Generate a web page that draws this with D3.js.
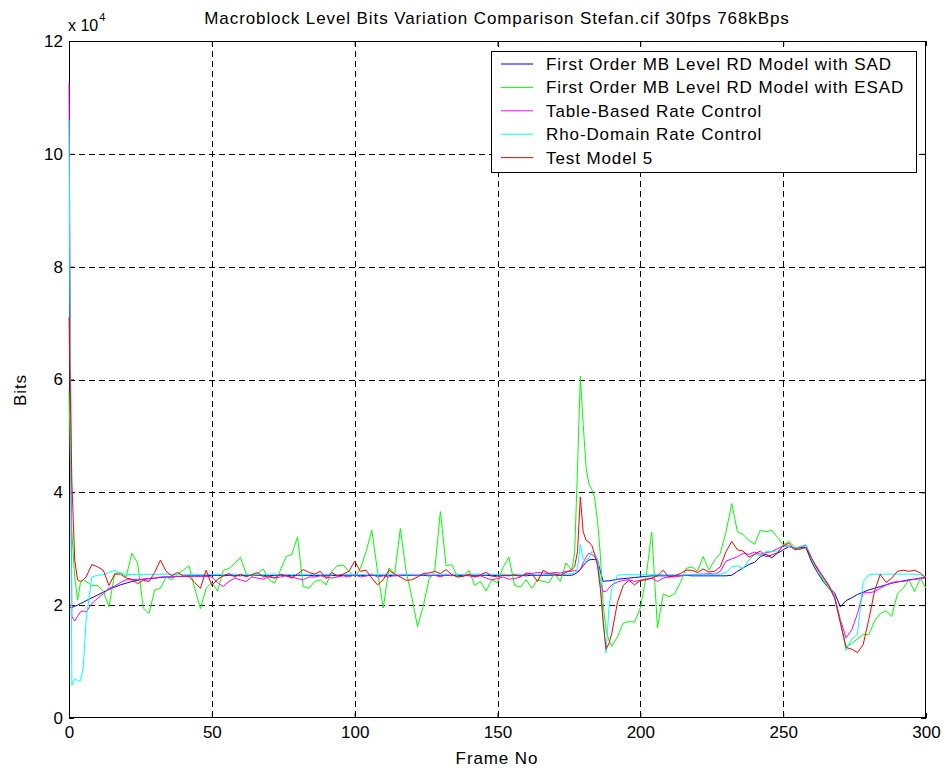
<!DOCTYPE html>
<html>
<head>
<meta charset="utf-8">
<script src="https://cdn.jsdelivr.net/npm/d3@7"></script>
<style>
  body { margin: 0; background: #fff; }
  text { font-family: Arial, "Liberation Sans", sans-serif; fill: #000; }
</style>
</head>
<body>
<svg></svg>
<script>
const width = 950;
const height = 771;
const marginLeft = 69;
const marginRight = 24;
const marginTop = 41;
const marginBottom = 53;

const frames = [0, 1, 2, 3, 4, 5, 6]
    .concat(d3.range(8, 177, 2))
    .concat(d3.range(177, 191))
    .concat(d3.range(192, 301, 2));

// values in units of 10^4 bits
const bitsSad = [
    1.95, 1.96, 1.98, 2.0, 2.03, 2.05, 2.08,
    2.13, 2.18, 2.23, 2.28, 2.32, 2.36, 2.39, 2.42, 2.44, 2.46,
    2.47, 2.48, 2.49, 2.5, 2.5, 2.51, 2.51, 2.52, 2.52, 2.52,
    2.52, 2.53, 2.53, 2.52, 2.53, 2.53, 2.52, 2.53, 2.53, 2.53,
    2.53, 2.52, 2.53, 2.53, 2.53, 2.52, 2.53, 2.53, 2.53, 2.52,
    2.53, 2.53, 2.53, 2.52, 2.53, 2.53, 2.53, 2.53, 2.52, 2.53,
    2.53, 2.53, 2.53, 2.52, 2.53, 2.53, 2.53, 2.53, 2.53, 2.52,
    2.53, 2.53, 2.53, 2.53, 2.52, 2.53, 2.53, 2.53, 2.53, 2.53,
    2.52, 2.53, 2.53, 2.53, 2.53, 2.53, 2.52, 2.53, 2.53, 2.53,
    2.53, 2.53, 2.53, 2.53, 2.53,
    2.55, 2.58, 2.63, 2.7, 2.76, 2.8, 2.81,
    2.81, 2.8, 2.6, 2.42, 2.43, 2.43, 2.44,
    2.46, 2.47, 2.48, 2.49, 2.5, 2.51, 2.52, 2.52, 2.52, 2.52,
    2.52, 2.52, 2.53, 2.52, 2.52, 2.52, 2.52, 2.52, 2.52, 2.52,
    2.53, 2.6, 2.66, 2.72, 2.76, 2.86, 2.9, 2.84, 2.92, 2.98,
    3.04, 3.0, 3.02, 3.02, 2.76, 2.58, 2.42, 2.3, 2.22, 1.97,
    2.08, 2.13, 2.19, 2.23, 2.27, 2.3, 2.33, 2.36, 2.39, 2.41,
    2.43, 2.45, 2.46, 2.48, 2.49
];

const bitsEsad = [
    5.8, 3.3, 2.5, 2.09, 2.39, 2.45, 2.42,
    2.35, 2.35, 2.25, 1.97, 2.56, 2.58, 2.5, 2.92, 2.75, 1.95,
    1.85, 2.27, 2.3, 2.5, 2.45, 2.55, 2.62, 2.7, 2.3, 1.94,
    2.3, 2.4, 2.25, 2.62, 2.65, 2.74, 2.85, 2.56, 2.51, 2.56,
    2.64, 2.45, 2.39, 2.62, 2.86, 2.9, 3.21, 2.33, 2.3, 2.42,
    2.45, 2.36, 2.6, 2.7, 2.71, 2.6, 2.5, 2.65, 2.95, 3.33,
    2.6, 1.95, 2.66, 2.55, 3.36, 2.6, 2.15, 1.62, 1.98, 2.45,
    2.6, 3.66, 2.7, 2.72, 2.5, 2.51, 2.62, 2.35, 2.42, 2.25,
    2.45, 2.4, 2.68, 2.85, 2.35, 2.32, 2.45, 2.3, 2.45, 2.42,
    2.4, 2.56, 2.42, 2.75, 2.62,
    2.92, 4.4, 6.06, 5.2, 4.45, 4.15, 4.05,
    3.9, 3.5, 2.9, 2.0, 1.55, 1.38, 1.27,
    1.44, 1.68, 1.71, 1.7, 1.95, 2.5, 3.3, 1.6, 2.2, 2.15,
    2.2, 2.4, 2.65, 2.68, 2.6, 2.86, 2.62, 2.8, 2.92, 3.3,
    3.8, 3.3, 3.25, 3.15, 3.08, 3.33, 3.3, 3.33, 3.2, 3.07,
    3.13, 3.03, 2.98, 3.07, 2.8, 2.64, 2.45, 2.3, 2.15, 1.68,
    1.27, 1.32, 1.4, 1.48, 1.48, 1.72, 1.85, 1.9, 1.8, 2.2,
    2.3, 2.45, 2.24, 2.48, 2.3
];

const bitsTable = [
    11.25, 1.8, 1.72, 1.8, 1.88, 1.9, 1.88,
    2.03, 2.12, 2.2, 2.3, 2.34, 2.4, 2.45, 2.45, 2.46, 2.46,
    2.47, 2.48, 2.5, 2.5, 2.5, 2.51, 2.51, 2.51, 2.51, 2.51,
    2.51, 2.5, 2.4, 2.33, 2.42, 2.48, 2.45, 2.42, 2.5, 2.48,
    2.46, 2.5, 2.48, 2.5, 2.52, 2.5, 2.47, 2.45, 2.5, 2.5,
    2.52, 2.5, 2.48, 2.5, 2.52, 2.5, 2.54, 2.5, 2.52, 2.55,
    2.5, 2.52, 2.5, 2.53, 2.52, 2.55, 2.53, 2.52, 2.55, 2.52,
    2.53, 2.5, 2.54, 2.52, 2.55, 2.53, 2.52, 2.5, 2.52, 2.48,
    2.45, 2.47, 2.5, 2.46, 2.47, 2.5, 2.57, 2.56, 2.58, 2.57,
    2.56, 2.58, 2.57, 2.6, 2.6,
    2.62, 2.6, 2.63, 2.75, 2.85, 2.92, 2.9,
    2.86, 2.8, 2.4, 2.24, 2.24, 2.3, 2.36,
    2.41, 2.44, 2.45, 2.42, 2.44, 2.46, 2.48, 2.42, 2.48, 2.5,
    2.5, 2.52, 2.53, 2.54, 2.55, 2.55, 2.56, 2.55, 2.6, 2.78,
    2.82, 2.86, 2.92, 2.9, 2.94, 2.9, 2.93, 2.95, 3.0, 3.05,
    3.05, 3.01, 3.03, 3.06, 2.82, 2.66, 2.5, 2.36, 2.15, 1.75,
    1.42, 1.56, 1.85, 2.22, 2.22, 2.24, 2.3, 2.36, 2.4, 2.42,
    2.42, 2.44, 2.46, 2.47, 2.49
];

const bitsRho = [
    10.6, 0.58, 0.7, 0.66, 0.66, 0.9, 1.75,
    2.5, 2.53, 2.54, 2.58, 2.62, 2.56, 2.55, 2.54, 2.55, 2.54,
    2.55, 2.54, 2.55, 2.55, 2.54, 2.55, 2.54, 2.55, 2.55, 2.54,
    2.55, 2.54, 2.55, 2.54, 2.55, 2.55, 2.54, 2.55, 2.54, 2.55,
    2.54, 2.55, 2.55, 2.54, 2.55, 2.54, 2.55, 2.55, 2.54, 2.55,
    2.54, 2.55, 2.55, 2.54, 2.55, 2.54, 2.55, 2.54, 2.55, 2.55,
    2.54, 2.55, 2.54, 2.55, 2.55, 2.54, 2.55, 2.54, 2.55, 2.54,
    2.55, 2.54, 2.55, 2.55, 2.54, 2.55, 2.54, 2.55, 2.55, 2.54,
    2.55, 2.54, 2.55, 2.54, 2.55, 2.55, 2.54, 2.55, 2.55, 2.55,
    2.54, 2.55, 2.55, 2.55, 2.56,
    2.57, 2.65, 3.08, 2.82, 2.77, 2.84, 2.95,
    2.92, 2.83, 2.45, 1.7, 1.15, 1.95, 2.3,
    2.53, 2.54, 2.54, 2.54, 2.54, 2.54, 2.54, 2.54, 2.54, 2.54,
    2.54, 2.54, 2.54, 2.54, 2.54, 2.54, 2.54, 2.55, 2.55, 2.58,
    2.68, 2.7, 2.65, 2.8, 2.9, 2.88, 2.95, 2.95, 2.96, 3.05,
    3.04, 3.01, 3.04, 3.07, 2.82, 2.63, 2.48, 2.34, 2.12, 1.72,
    1.2, 1.4, 1.48, 2.42, 2.54, 2.55, 2.55, 2.55, 2.55, 2.55,
    2.55, 2.55, 2.55, 2.54, 2.5
];

const bitsTm5 = [
    7.1, 4.2, 2.8, 2.45, 2.42, 2.45, 2.5,
    2.72, 2.68, 2.62, 2.35, 2.55, 2.55, 2.48, 2.46, 2.38, 2.44,
    2.42, 2.58, 2.8, 2.6, 2.52, 2.58, 2.52, 2.51, 2.4, 2.3,
    2.62, 2.35, 2.46, 2.52, 2.56, 2.5, 2.55, 2.5, 2.54, 2.58,
    2.5, 2.52, 2.48, 2.55, 2.52, 2.48, 2.55, 2.63, 2.58, 2.55,
    2.6, 2.47, 2.58, 2.52, 2.55, 2.6, 2.78, 2.6, 2.62, 2.48,
    2.36, 2.45, 2.62, 2.55, 2.5, 2.44, 2.45, 2.5, 2.56, 2.57,
    2.6, 2.56, 2.63, 2.54, 2.5, 2.51, 2.55, 2.5, 2.54, 2.58,
    2.52, 2.5, 2.53, 2.52, 2.54, 2.51, 2.55, 2.56, 2.42, 2.62,
    2.56, 2.55, 2.53, 2.58, 2.63,
    2.68, 2.95, 3.92, 3.3, 3.15, 3.12, 3.06,
    2.9, 2.7, 2.3, 1.7, 1.22, 1.32, 1.5,
    2.05, 2.35, 2.44, 2.36, 2.44, 2.45, 2.48, 2.52, 2.62, 2.5,
    2.52, 2.56, 2.62, 2.62, 2.58, 2.64, 2.59, 2.6, 2.68, 2.95,
    3.13, 2.98, 2.96, 2.85, 2.9, 2.96, 2.86, 2.89, 2.93, 3.05,
    3.1, 2.98, 3.0, 3.02, 2.83, 2.64, 2.5, 2.34, 2.13, 1.7,
    1.25, 1.22, 1.16, 1.3, 1.75, 2.25, 2.55, 2.4, 2.48, 2.6,
    2.62, 2.6, 2.62, 2.57, 2.48
];

const seriesNames = [
    "First Order MB Level RD Model with SAD",
    "First Order MB Level RD Model with ESAD",
    "Table-Based Rate Control",
    "Rho-Domain Rate Control",
    "Test Model 5"
];
const seriesColors = ["#0000ff", "#00ff00", "#ff00ff", "#00ffff", "#ff0000"];
const seriesValues = [bitsSad, bitsEsad, bitsTable, bitsRho, bitsTm5];

const xTicks = [0, 50, 100, 150, 200, 250, 300];
const yTicks = [0, 2, 4, 6, 8, 10, 12];

const fontSize = "17px";
const spacing = "0.9px";

let svg = d3.select("svg").attr("width", width).attr("height", height);

svg.append("rect").attr("width", width).attr("height", height).attr("fill", "#fff");

let scaleX = d3.scaleLinear().domain([0, 300]).range([marginLeft, width - marginRight]);
let scaleY = d3.scaleLinear().domain([0, 12]).range([height - marginBottom, marginTop]);

function drawGrid() {
    let grid = svg.append("g")
        .attr("stroke", "#000")
        .attr("stroke-width", 1)
        .attr("stroke-dasharray", "6,4")
        .attr("shape-rendering", "crispEdges");
    grid.selectAll(".gx")
        .data(xTicks.slice(1, -1))
        .enter()
        .append("line")
        .attr("x1", d => Math.round(scaleX(d)) + 0.5)
        .attr("x2", d => Math.round(scaleX(d)) + 0.5)
        .attr("y1", scaleY(12))
        .attr("y2", scaleY(0));
    grid.selectAll(".gy")
        .data(yTicks.slice(1, -1))
        .enter()
        .append("line")
        .attr("y1", d => Math.round(scaleY(d)) + 0.5)
        .attr("y2", d => Math.round(scaleY(d)) + 0.5)
        .attr("x1", scaleX(0))
        .attr("x2", scaleX(300));
}

function drawAxes() {
    let axisX = d3.axisBottom(scaleX).tickValues(xTicks).tickSizeInner(-5).tickSizeOuter(0).tickPadding(8);
    let axisY = d3.axisLeft(scaleY).tickValues(yTicks).tickSizeInner(-5).tickSizeOuter(0).tickPadding(6);
    let axisTop = d3.axisTop(scaleX).tickValues(xTicks).tickSizeInner(-5).tickSizeOuter(0).tickFormat("");
    let axisRight = d3.axisRight(scaleY).tickValues(yTicks).tickSizeInner(-5).tickSizeOuter(0).tickFormat("");

    svg.append("g").attr("transform", `translate(0, ${scaleY(0)})`).call(axisX);
    svg.append("g").attr("transform", `translate(${scaleX(0)}, 0)`).call(axisY);
    svg.append("g").attr("transform", `translate(0, ${scaleY(12)})`).call(axisTop);
    svg.append("g").attr("transform", `translate(${scaleX(300)}, 0)`).call(axisRight);

    svg.selectAll(".domain").remove();
    svg.selectAll(".tick line").attr("stroke", "#000");
    svg.selectAll(".tick text")
        .style("font-size", fontSize)
        .style("font-family", "Arial, 'Liberation Sans', sans-serif")
        .attr("fill", "#000");

    svg.append("rect")
        .attr("x", scaleX(0) + 0.5)
        .attr("y", scaleY(12) + 0.5)
        .attr("width", scaleX(300) - scaleX(0) - 1)
        .attr("height", scaleY(0) - scaleY(12) - 1)
        .attr("fill", "none")
        .attr("stroke", "#000")
        .attr("shape-rendering", "crispEdges");
}

function drawLines() {
    let line = d3.line()
        .x(d => scaleX(d[0]))
        .y(d => scaleY(d[1]));
    seriesValues.forEach((values, i) => {
        let points = frames.map((f, k) => [f, values[k]]).filter(d => d[1] !== undefined);
        svg.append("path")
            .datum(points)
            .attr("fill", "none")
            .attr("stroke", seriesColors[i])
            .attr("stroke-width", 1)
            .attr("d", line);
    });
}

function drawLegend() {
    let legend = svg.append("g");
    legend.append("rect")
        .attr("x", 491.5).attr("y", 51.5)
        .attr("width", 425).attr("height", 121)
        .attr("fill", "#fff").attr("stroke", "#000")
        .attr("shape-rendering", "crispEdges");
    seriesNames.forEach((name, i) => {
        let y = 64 + i * 23.4;
        legend.append("line")
            .attr("x1", 501).attr("x2", 533)
            .attr("y1", y).attr("y2", y)
            .attr("stroke", seriesColors[i]);
        legend.append("text")
            .attr("x", 546).attr("y", y).attr("dy", "0.35em")
            .style("font-size", fontSize)
            .style("letter-spacing", spacing)
            .text(name);
    });
}

function drawLabels() {
    svg.append("text")
        .attr("x", 497).attr("y", 24)
        .attr("text-anchor", "middle")
        .style("font-size", "17px")
        .style("letter-spacing", spacing)
        .text("Macroblock Level Bits Variation Comparison Stefan.cif 30fps 768kBps");
    let mult = svg.append("text")
        .attr("x", 68).attr("y", 31)
        .style("font-size", "16px");
    mult.append("tspan").text("x 10");
    mult.append("tspan").attr("dx", 1).attr("dy", -10).style("font-size", "11px").text("4");
    svg.append("text")
        .attr("x", 497).attr("y", 764)
        .attr("text-anchor", "middle")
        .style("font-size", fontSize)
        .style("letter-spacing", spacing)
        .text("Frame No");
    svg.append("text")
        .attr("transform", "translate(26, 390) rotate(-90)")
        .attr("text-anchor", "middle")
        .style("font-size", fontSize)
        .style("letter-spacing", spacing)
        .text("Bits");
}

drawGrid();
drawAxes();
drawLines();
drawLegend();
drawLabels();
</script>
</body>
</html>
